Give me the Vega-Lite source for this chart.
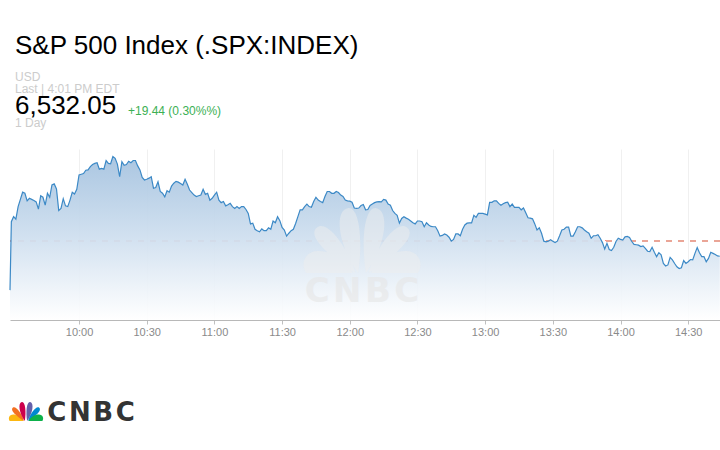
{"$schema":"https://vega.github.io/schema/vega-lite/v6.json","width":710,"height":171,"autosize":"none","padding":{"left":10,"top":149,"right":0,"bottom":130},"background":"#ffffff","view":{"stroke":null},
"title":{"text":"S&P 500 Index (.SPX:INDEX)","anchor":"start","frame":"group","dx":5,"dy":24,"offset":15,"baseline":"alphabetic","font":"Liberation Sans","fontSize":26,"fontWeight":"normal","color":"#000000"},
"data":{"format":{"parse":{"t":"date:'%H:%M:%S'"}},"values":[
{"t":"09:29:24","v":6498.6},{"t":"09:30:00","v":6517.6},{"t":"09:31:00","v":6519.0},{"t":"09:32:00","v":6518.3},{"t":"09:33:00","v":6521.8},{"t":"09:34:00","v":6523.8},{"t":"09:35:00","v":6525.8},{"t":"09:36:00","v":6525.5},{"t":"09:37:00","v":6523.4},{"t":"09:38:00","v":6524.1},{"t":"09:39:00","v":6523.8},{"t":"09:40:00","v":6523.5},{"t":"09:41:00","v":6523.1},{"t":"09:42:00","v":6521.1},{"t":"09:43:00","v":6524.8},{"t":"09:44:00","v":6524.4},{"t":"09:45:00","v":6522.2},{"t":"09:46:00","v":6525.5},{"t":"09:47:00","v":6524.4},{"t":"09:48:00","v":6527.8},{"t":"09:49:00","v":6528.1},{"t":"09:50:00","v":6526.7},{"t":"09:51:00","v":6520.7},{"t":"09:52:00","v":6521.3},{"t":"09:53:00","v":6524.0},{"t":"09:54:00","v":6522.0},{"t":"09:55:00","v":6521.8},{"t":"09:56:00","v":6523.6},{"t":"09:57:00","v":6525.8},{"t":"09:58:00","v":6525.3},{"t":"09:59:00","v":6526.6},
{"t":"10:00:00","v":6530.6},{"t":"10:01:00","v":6530.8},{"t":"10:02:00","v":6531.0},{"t":"10:03:00","v":6531.9},{"t":"10:04:00","v":6532.0},{"t":"10:05:00","v":6532.9},{"t":"10:06:00","v":6533.5},{"t":"10:07:00","v":6533.8},{"t":"10:08:00","v":6534.0},{"t":"10:09:00","v":6532.2},{"t":"10:10:00","v":6532.4},{"t":"10:11:00","v":6532.2},{"t":"10:12:00","v":6534.6},{"t":"10:13:00","v":6533.8},{"t":"10:14:00","v":6533.7},{"t":"10:15:00","v":6535.7},{"t":"10:16:00","v":6535.2},{"t":"10:17:00","v":6533.6},{"t":"10:18:00","v":6530.1},{"t":"10:19:00","v":6534.3},{"t":"10:20:00","v":6533.3},{"t":"10:21:00","v":6533.5},{"t":"10:22:00","v":6534.4},{"t":"10:23:00","v":6534.0},{"t":"10:24:00","v":6534.6},{"t":"10:25:00","v":6534.6},{"t":"10:26:00","v":6533.1},{"t":"10:27:00","v":6532.0},{"t":"10:28:00","v":6529.9},{"t":"10:29:00","v":6529.2},{"t":"10:30:00","v":6529.4},{"t":"10:31:00","v":6529.7},{"t":"10:32:00","v":6530.1},{"t":"10:33:00","v":6526.9},{"t":"10:34:00","v":6527.1},{"t":"10:35:00","v":6528.7},{"t":"10:36:00","v":6526.0},{"t":"10:37:00","v":6525.5},{"t":"10:38:00","v":6524.5},{"t":"10:39:00","v":6526.2},{"t":"10:40:00","v":6525.8},{"t":"10:41:00","v":6527.5},{"t":"10:42:00","v":6528.3},{"t":"10:43:00","v":6528.8},{"t":"10:44:00","v":6528.6},{"t":"10:45:00","v":6528.2},{"t":"10:46:00","v":6527.8},{"t":"10:47:00","v":6529.4},{"t":"10:48:00","v":6528.0},{"t":"10:49:00","v":6526.4},{"t":"10:50:00","v":6525.7},{"t":"10:51:00","v":6525.0},{"t":"10:52:00","v":6524.6},{"t":"10:53:00","v":6524.8},{"t":"10:54:00","v":6525.0},{"t":"10:55:00","v":6526.6},{"t":"10:56:00","v":6525.2},{"t":"10:57:00","v":6525.5},{"t":"10:58:00","v":6523.6},{"t":"10:59:00","v":6524.1},
{"t":"11:00:00","v":6525.0},{"t":"11:01:00","v":6525.8},{"t":"11:02:00","v":6523.6},{"t":"11:03:00","v":6522.9},{"t":"11:04:00","v":6523.2},{"t":"11:05:00","v":6522.0},{"t":"11:06:00","v":6522.3},{"t":"11:07:00","v":6522.7},{"t":"11:08:00","v":6521.8},{"t":"11:09:00","v":6521.3},{"t":"11:10:00","v":6521.8},{"t":"11:11:00","v":6521.3},{"t":"11:12:00","v":6521.8},{"t":"11:13:00","v":6521.8},{"t":"11:14:00","v":6521.0},{"t":"11:15:00","v":6519.9},{"t":"11:16:00","v":6517.0},{"t":"11:17:00","v":6517.2},{"t":"11:18:00","v":6515.5},{"t":"11:19:00","v":6515.1},{"t":"11:20:00","v":6514.8},{"t":"11:21:00","v":6515.6},{"t":"11:22:00","v":6515.1},{"t":"11:23:00","v":6515.1},{"t":"11:24:00","v":6515.9},{"t":"11:25:00","v":6515.5},{"t":"11:26:00","v":6517.8},{"t":"11:27:00","v":6517.3},{"t":"11:28:00","v":6519.0},{"t":"11:29:00","v":6517.9},{"t":"11:30:00","v":6516.0},{"t":"11:31:00","v":6515.3},{"t":"11:32:00","v":6513.6},{"t":"11:33:00","v":6514.4},{"t":"11:34:00","v":6515.1},{"t":"11:35:00","v":6515.5},{"t":"11:36:00","v":6517.1},{"t":"11:37:00","v":6519.0},{"t":"11:38:00","v":6520.9},{"t":"11:39:00","v":6520.9},{"t":"11:40:00","v":6521.8},{"t":"11:41:00","v":6522.5},{"t":"11:42:00","v":6521.8},{"t":"11:43:00","v":6521.6},{"t":"11:44:00","v":6523.2},{"t":"11:45:00","v":6524.4},{"t":"11:46:00","v":6523.6},{"t":"11:47:00","v":6523.2},{"t":"11:48:00","v":6522.9},{"t":"11:49:00","v":6524.6},{"t":"11:50:00","v":6526.0},{"t":"11:51:00","v":6526.0},{"t":"11:52:00","v":6525.5},{"t":"11:53:00","v":6525.5},{"t":"11:54:00","v":6526.0},{"t":"11:55:00","v":6525.7},{"t":"11:56:00","v":6525.0},{"t":"11:57:00","v":6524.6},{"t":"11:58:00","v":6523.6},{"t":"11:59:00","v":6523.4},
{"t":"12:00:00","v":6523.3},{"t":"12:01:00","v":6523.0},{"t":"12:02:00","v":6521.4},{"t":"12:03:00","v":6521.3},{"t":"12:04:00","v":6521.4},{"t":"12:05:00","v":6522.1},{"t":"12:06:00","v":6522.4},{"t":"12:07:00","v":6520.9},{"t":"12:08:00","v":6521.0},{"t":"12:09:00","v":6522.1},{"t":"12:10:00","v":6522.5},{"t":"12:11:00","v":6522.9},{"t":"12:12:00","v":6523.1},{"t":"12:13:00","v":6523.2},{"t":"12:14:00","v":6523.1},{"t":"12:15:00","v":6523.8},{"t":"12:16:00","v":6523.6},{"t":"12:17:00","v":6522.5},{"t":"12:18:00","v":6522.2},{"t":"12:19:00","v":6520.7},{"t":"12:20:00","v":6519.9},{"t":"12:21:00","v":6519.4},{"t":"12:22:00","v":6517.2},{"t":"12:23:00","v":6518.5},{"t":"12:24:00","v":6519.0},{"t":"12:25:00","v":6518.6},{"t":"12:26:00","v":6518.3},{"t":"12:27:00","v":6517.8},{"t":"12:28:00","v":6517.3},{"t":"12:29:00","v":6517.0},{"t":"12:30:00","v":6517.8},{"t":"12:31:00","v":6517.8},{"t":"12:32:00","v":6517.6},{"t":"12:33:00","v":6516.2},{"t":"12:34:00","v":6517.3},{"t":"12:35:00","v":6516.7},{"t":"12:36:00","v":6516.3},{"t":"12:37:00","v":6516.2},{"t":"12:38:00","v":6516.2},{"t":"12:39:00","v":6515.1},{"t":"12:40:00","v":6513.6},{"t":"12:41:00","v":6513.8},{"t":"12:42:00","v":6514.2},{"t":"12:43:00","v":6513.9},{"t":"12:44:00","v":6513.3},{"t":"12:45:00","v":6512.2},{"t":"12:46:00","v":6512.7},{"t":"12:47:00","v":6514.2},{"t":"12:48:00","v":6514.2},{"t":"12:49:00","v":6513.7},{"t":"12:50:00","v":6515.5},{"t":"12:51:00","v":6516.7},{"t":"12:52:00","v":6517.2},{"t":"12:53:00","v":6517.3},{"t":"12:54:00","v":6517.3},{"t":"12:55:00","v":6519.4},{"t":"12:56:00","v":6518.8},{"t":"12:57:00","v":6519.9},{"t":"12:58:00","v":6519.9},{"t":"12:59:00","v":6519.9},
{"t":"13:00:00","v":6519.7},{"t":"13:01:00","v":6519.5},{"t":"13:02:00","v":6523.0},{"t":"13:03:00","v":6523.0},{"t":"13:04:00","v":6523.4},{"t":"13:05:00","v":6523.4},{"t":"13:06:00","v":6522.7},{"t":"13:07:00","v":6522.2},{"t":"13:08:00","v":6522.6},{"t":"13:09:00","v":6522.9},{"t":"13:10:00","v":6523.0},{"t":"13:11:00","v":6521.8},{"t":"13:12:00","v":6522.5},{"t":"13:13:00","v":6521.6},{"t":"13:14:00","v":6521.6},{"t":"13:15:00","v":6521.6},{"t":"13:16:00","v":6520.9},{"t":"13:17:00","v":6521.4},{"t":"13:18:00","v":6520.1},{"t":"13:19:00","v":6518.7},{"t":"13:20:00","v":6518.6},{"t":"13:21:00","v":6518.4},{"t":"13:22:00","v":6517.0},{"t":"13:23:00","v":6515.3},{"t":"13:24:00","v":6515.9},{"t":"13:25:00","v":6514.4},{"t":"13:26:00","v":6512.2},{"t":"13:27:00","v":6512.0},{"t":"13:28:00","v":6512.2},{"t":"13:29:00","v":6512.6},{"t":"13:30:00","v":6512.2},{"t":"13:31:00","v":6511.8},{"t":"13:32:00","v":6512.2},{"t":"13:33:00","v":6513.7},{"t":"13:34:00","v":6515.3},{"t":"13:35:00","v":6515.5},{"t":"13:36:00","v":6516.1},{"t":"13:37:00","v":6516.1},{"t":"13:38:00","v":6513.6},{"t":"13:39:00","v":6513.6},{"t":"13:40:00","v":6514.8},{"t":"13:41:00","v":6516.2},{"t":"13:42:00","v":6516.2},{"t":"13:43:00","v":6515.9},{"t":"13:44:00","v":6515.3},{"t":"13:45:00","v":6514.8},{"t":"13:46:00","v":6514.4},{"t":"13:47:00","v":6513.0},{"t":"13:48:00","v":6513.7},{"t":"13:49:00","v":6513.7},{"t":"13:50:00","v":6514.0},{"t":"13:51:00","v":6513.0},{"t":"13:52:00","v":6511.8},{"t":"13:53:00","v":6510.0},{"t":"13:54:00","v":6511.6},{"t":"13:55:00","v":6509.9},{"t":"13:56:00","v":6509.6},{"t":"13:57:00","v":6510.5},{"t":"13:58:00","v":6512.1},{"t":"13:59:00","v":6513.0},
{"t":"14:00:00","v":6512.7},{"t":"14:01:00","v":6512.5},{"t":"14:02:00","v":6513.4},{"t":"14:03:00","v":6513.5},{"t":"14:04:00","v":6513.2},{"t":"14:05:00","v":6512.1},{"t":"14:06:00","v":6511.3},{"t":"14:07:00","v":6511.2},{"t":"14:08:00","v":6511.1},{"t":"14:09:00","v":6510.7},{"t":"14:10:00","v":6510.9},{"t":"14:11:00","v":6510.2},{"t":"14:12:00","v":6509.4},{"t":"14:13:00","v":6509.3},{"t":"14:14:00","v":6510.5},{"t":"14:15:00","v":6509.1},{"t":"14:16:00","v":6507.9},{"t":"14:17:00","v":6509.0},{"t":"14:18:00","v":6508.4},{"t":"14:19:00","v":6506.0},{"t":"14:20:00","v":6505.3},{"t":"14:21:00","v":6505.6},{"t":"14:22:00","v":6507.7},{"t":"14:23:00","v":6507.0},{"t":"14:24:00","v":6506.0},{"t":"14:25:00","v":6505.1},{"t":"14:26:00","v":6504.6},{"t":"14:27:00","v":6504.8},{"t":"14:28:00","v":6506.8},{"t":"14:29:00","v":6506.0},{"t":"14:30:00","v":6506.5},{"t":"14:31:00","v":6507.1},{"t":"14:32:00","v":6507.0},{"t":"14:33:00","v":6508.8},{"t":"14:34:00","v":6510.4},{"t":"14:35:00","v":6509.0},{"t":"14:36:00","v":6507.9},{"t":"14:37:00","v":6507.9},{"t":"14:38:00","v":6506.5},{"t":"14:39:00","v":6507.4},{"t":"14:40:00","v":6509.1},{"t":"14:41:00","v":6508.8},{"t":"14:42:00","v":6508.5},{"t":"14:43:00","v":6508.1},{"t":"14:44:00","v":6508.0}
]},
"layer":[
{"mark":{"type":"rule","stroke":"#e9a696","strokeWidth":1,"strokeDash":[6,6]},"encoding":{"y":{"datum":6512.3,"type":"quantitative","scale":{"domain":[6490.3,6537.8],"zero":false,"nice":false},"axis":null}}},
{"mark":{"type":"area","line":false,"color":{"gradient":"linear","x1":1,"y1":0,"x2":1,"y2":1,"stops":[{"offset":0,"color":"rgba(164,194,223,0.93)"},{"offset":0.5,"color":"rgba(207,223,239,0.93)"},{"offset":1,"color":"rgba(255,255,255,0.9)"}]}},
"encoding":{"x":{"field":"t","type":"temporal","title":null,"scale":{"domain":[{"year":1900,"month":1,"date":1,"hours":9,"minutes":29,"seconds":24},{"year":1900,"month":1,"date":1,"hours":14,"minutes":44,"seconds":6}],"nice":false},
"axis":{"format":"%H:%M","values":[{"year":1900,"month":1,"date":1,"hours":10,"minutes":0},{"year":1900,"month":1,"date":1,"hours":10,"minutes":30},{"year":1900,"month":1,"date":1,"hours":11,"minutes":0},{"year":1900,"month":1,"date":1,"hours":11,"minutes":30},{"year":1900,"month":1,"date":1,"hours":12,"minutes":0},{"year":1900,"month":1,"date":1,"hours":12,"minutes":30},{"year":1900,"month":1,"date":1,"hours":13,"minutes":0},{"year":1900,"month":1,"date":1,"hours":13,"minutes":30},{"year":1900,"month":1,"date":1,"hours":14,"minutes":0},{"year":1900,"month":1,"date":1,"hours":14,"minutes":30}],"grid":true,"gridColor":"#f0f0f0","gridWidth":1,"domainColor":"#b8b8b8","domainWidth":1.2,"tickColor":"#c0c0c0","tickSize":4,"labelFont":"Liberation Sans","labelFontSize":11,"labelColor":"#8a8a8a","labelPadding":2,"labelOverlap":false,"labelFlush":false}},
"y":{"field":"v","type":"quantitative","title":null,"scale":{"domain":[6490.3,6537.8],"zero":false,"nice":false},"axis":{"values":[6500,6510,6520,6530],"labels":false,"ticks":false,"domain":false,"grid":true,"gridColor":"#f2f2f2","gridWidth":1}},"y2":{"datum":6490.3}}},
{"data":{"values":[{"logo":"watermark"}]},"mark":{"type":"point","filled":true,"x":352,"y":124,"size":1.68,"color":"#eeeeee","opacity":0.5,"strokeWidth":0,"shape":"M6 0C36 -40 44 -96 22 -100C4 -104 -2 -50 6 0ZM-6 0C-36 -40 -44 -96 -22 -100C-4 -104 2 -50 -6 0ZM10 0C52 -26 85 -57 70 -70C55 -83 24 -44 10 0ZM-10 0C-52 -26 -85 -57 -70 -70C-55 -83 -24 -44 -10 0ZM14 0L86 0C96 -14 88 -34 68 -34C46 -34 24 -20 14 0ZM-14 0L-86 0C-96 -14 -88 -34 -68 -34C-46 -34 -24 -20 -14 0Z"},"encoding":{}},
{"data":{"values":[{"label":"C\u200aN\u200aB\u200aC"}]},"mark":{"type":"text","x":352,"y":153,"align":"center","baseline":"alphabetic","font":"DejaVu Sans","fontWeight":"bold","fontSize":34,"color":"#e6e6e6","opacity":0.6},"encoding":{"text":{"field":"label"}}},
{"mark":{"type":"line","color":"#3c89c6","strokeWidth":1.2,"interpolate":"linear"},"encoding":{"x":{"field":"t","type":"temporal"},"y":{"field":"v","type":"quantitative"}}},
{"data":{"values":[{"label":"USD"}]},"mark":{"type":"text","x":5,"y":-68,"align":"left","baseline":"alphabetic","font":"Liberation Sans","fontSize":12,"color":"#cccccc"},"encoding":{"text":{"field":"label"}}},
{"data":{"values":[{"label":"Last | 4:01 PM EDT"}]},"mark":{"type":"text","x":5,"y":-56,"align":"left","baseline":"alphabetic","font":"Liberation Sans","fontSize":12,"color":"#cccccc"},"encoding":{"text":{"field":"label"}}},
{"data":{"values":[{"label":"6,532.05"}]},"mark":{"type":"text","x":5,"y":-35,"align":"left","baseline":"alphabetic","font":"Liberation Sans","fontSize":26,"color":"#000000"},"encoding":{"text":{"field":"label"}}},
{"data":{"values":[{"label":"+19.44 (0.30%%)"}]},"mark":{"type":"text","x":118,"y":-34,"align":"left","baseline":"alphabetic","font":"Liberation Sans","fontSize":12,"color":"#3cb054"},"encoding":{"text":{"field":"label"}}},
{"data":{"values":[{"label":"1 Day"}]},"mark":{"type":"text","x":5,"y":-22,"align":"left","baseline":"alphabetic","font":"Liberation Sans","fontSize":12,"color":"#cccccc"},"encoding":{"text":{"field":"label"}}},
{"data":{"values":[{"logo":"yellow"}]},"mark":{"type":"point","filled":true,"x":16,"y":272,"size":0.144,"color":"#fcb711","opacity":1,"strokeWidth":0,"shape":"M-14 0L-86 0C-96 -14 -88 -34 -68 -34C-46 -34 -24 -20 -14 0Z"},"encoding":{}},
{"data":{"values":[{"logo":"orange"}]},"mark":{"type":"point","filled":true,"x":16,"y":272,"size":0.144,"color":"#f37021","opacity":1,"strokeWidth":0,"shape":"M-10 0C-52 -26 -85 -57 -70 -70C-55 -83 -24 -44 -10 0Z"},"encoding":{}},
{"data":{"values":[{"logo":"red"}]},"mark":{"type":"point","filled":true,"x":16,"y":272,"size":0.144,"color":"#cc004c","opacity":1,"strokeWidth":0,"shape":"M-6 0C-36 -40 -44 -96 -22 -100C-4 -104 2 -50 -6 0Z"},"encoding":{}},
{"data":{"values":[{"logo":"purple"}]},"mark":{"type":"point","filled":true,"x":16,"y":272,"size":0.144,"color":"#6460aa","opacity":1,"strokeWidth":0,"shape":"M6 0C36 -40 44 -96 22 -100C4 -104 -2 -50 6 0Z"},"encoding":{}},
{"data":{"values":[{"logo":"blue"}]},"mark":{"type":"point","filled":true,"x":16,"y":272,"size":0.144,"color":"#0089d0","opacity":1,"strokeWidth":0,"shape":"M10 0C52 -26 85 -57 70 -70C55 -83 24 -44 10 0Z"},"encoding":{}},
{"data":{"values":[{"logo":"green"}]},"mark":{"type":"point","filled":true,"x":16,"y":272,"size":0.144,"color":"#0db14b","opacity":1,"strokeWidth":0,"shape":"M14 0L86 0C96 -14 88 -34 68 -34C46 -34 24 -20 14 0Z"},"encoding":{}},
{"data":{"values":[{"label":"C\u200aN\u200aB\u200aC"}]},"mark":{"type":"text","x":81,"y":272,"align":"center","baseline":"alphabetic","font":"DejaVu Sans","fontWeight":"bold","fontSize":26,"color":"#333333"},"encoding":{"text":{"field":"label"}}}
]}
